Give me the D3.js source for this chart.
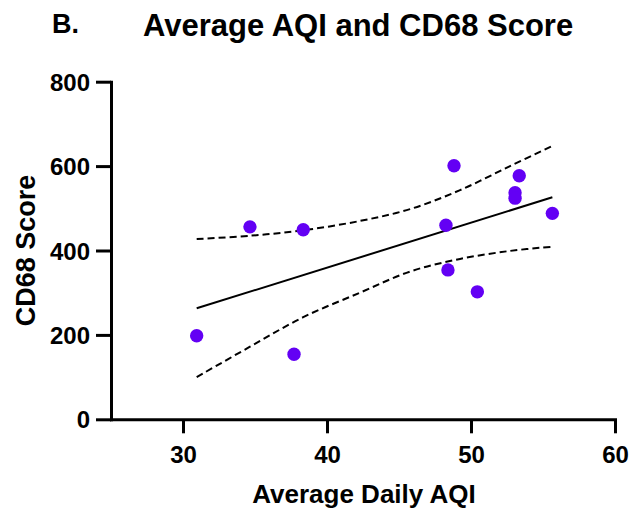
<!DOCTYPE html>
<html>
<head>
<meta charset="utf-8">
<script src="https://cdn.jsdelivr.net/npm/d3@7"></script>
<style>
  body { margin: 0; background: #fff; }
  svg text { font-family: "Liberation Sans", Arial, Helvetica, sans-serif; font-weight: bold; fill: #000; }
</style>
</head>
<body>
<svg id="chart" width="629" height="508"></svg>
<script>
// values
const aqi = [30.95, 34.65, 38.35, 37.71, 48.26, 48.40, 48.82, 50.44, 53.06, 53.06, 53.35, 55.65];
const cd68 = [198, 456, 449, 154, 460, 354, 601, 302, 537, 524, 577, 488];

const fitX = [30.95, 55.65];
const fitY = [263, 526];

const bandX = [30.95, 34.65, 38.35, 42.29, 45.76, 49.24, 52.71, 55.67];
const bandUpper = [427, 435, 448, 470, 498, 543, 600, 648];
const bandLower = [100, 172, 242, 300, 350, 380, 399, 409];

const xTicks = [30, 40, 50, 60];
const yTicks = [0, 200, 400, 600, 800];

const pointColor = '#6300f4';
const axisWidth = 3;

const svg = d3.select('#chart');

const x = d3.scaleLinear().domain([25, 60]).range([111, 615]);
const y = d3.scaleLinear().domain([0, 800]).range([419.3, 81.7]);

// titles
svg.append('text')
  .attr('x', 52)
  .attr('y', 33)
  .attr('font-size', 27)
  .text('B.');

svg.append('text')
  .attr('x', 143)
  .attr('y', 36)
  .attr('font-size', 31)
  .text('Average AQI and CD68 Score');

// axes
const xAxis = svg.append('g')
  .attr('transform', `translate(0,${y(0)})`)
  .call(d3.axisBottom(x).tickValues(xTicks).tickSize(14).tickSizeOuter(0).tickPadding(13));

const yAxis = svg.append('g')
  .attr('transform', `translate(${x(25)},0)`)
  .call(d3.axisLeft(y).tickValues(yTicks).tickSize(15).tickSizeOuter(0).tickPadding(6));

[xAxis, yAxis].forEach((g) => {
  g.select('.domain')
    .attr('stroke', '#000')
    .attr('stroke-width', axisWidth)
    .attr('stroke-linecap', 'square');
  g.selectAll('.tick line')
    .attr('stroke', '#000')
    .attr('stroke-width', axisWidth);
  g.selectAll('.tick text')
    .attr('font-size', 24)
    .attr('font-family', '"Liberation Sans", Arial, Helvetica, sans-serif')
    .attr('fill', '#000');
});
// the y tick labels sit a bit lower in the reference
yAxis.selectAll('.tick text').attr('dy', '0.36em');

svg.append('text')
  .attr('x', 364)
  .attr('y', 503)
  .attr('text-anchor', 'middle')
  .attr('font-size', 26)
  .text('Average Daily AQI');

svg.append('text')
  .attr('transform', `translate(35,${(y(0) + y(800)) / 2}) rotate(-90)`)
  .attr('text-anchor', 'middle')
  .attr('font-size', 27)
  .text('CD68 Score');

// confidence band (dashed) and fit line
const band = d3.line()
  .x(d => x(d[0]))
  .y(d => y(d[1]))
  .curve(d3.curveCatmullRom.alpha(0.5));

[bandUpper, bandLower].forEach((vals) => {
  svg.append('path')
    .datum(bandX.map((v, i) => [v, vals[i]]))
    .attr('d', band)
    .attr('fill', 'none')
    .attr('stroke', '#000')
    .attr('stroke-width', 2)
    .attr('stroke-dasharray', '7,4');
});

svg.append('path')
  .datum(fitX.map((v, i) => [v, fitY[i]]))
  .attr('d', band)
  .attr('fill', 'none')
  .attr('stroke', '#000')
  .attr('stroke-width', 2);

// points
svg.append('g')
  .selectAll('circle')
  .data(aqi.map((v, i) => ({ x: v, y: cd68[i] })))
  .enter()
  .append('circle')
  .attr('cx', d => x(d.x))
  .attr('cy', d => y(d.y))
  .attr('r', 6.7)
  .attr('fill', pointColor);
</script>
</body>
</html>
